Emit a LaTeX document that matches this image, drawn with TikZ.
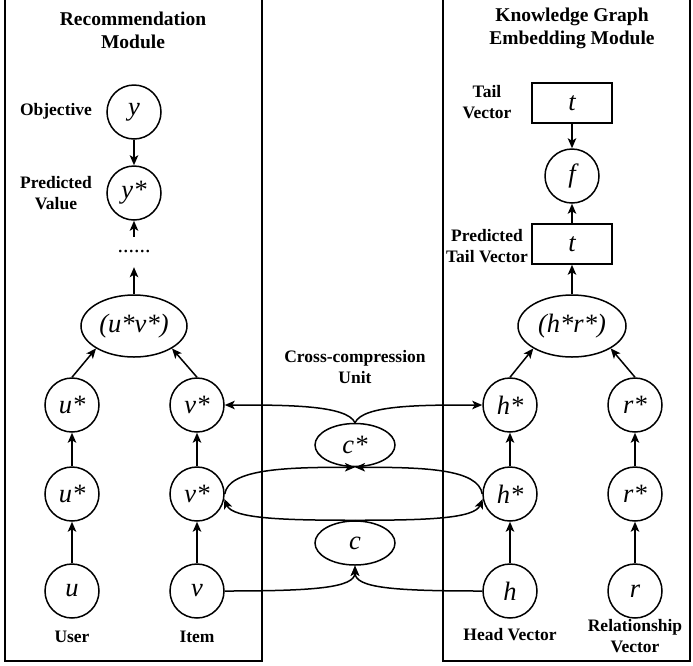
\documentclass[tikz,border=0pt]{standalone}
\usepackage{fontspec}
\setmainfont{Liberation Serif}
\usetikzlibrary{shapes.geometric,arrows.meta}
\begin{document}
\begin{tikzpicture}[x=1pt,y=-1pt,
  every node/.style={inner sep=0pt},
  mathf/.style={font=\fontsize{26.5}{28}\selectfont\itshape},
  circ/.style={circle,draw,line width=1.5pt,minimum size=54pt,mathf},
  ell/.style={ellipse,draw,line width=1.5pt,mathf},
  vbox/.style={rectangle,draw,line width=1.5pt,minimum width=80pt,minimum height=40pt,mathf},
  lab/.style={font=\fontsize{17.5}{21.5}\selectfont\bfseries,align=center},
  head/.style={font=\fontsize{19.5}{23}\selectfont\bfseries,align=center},
  conn/.style={line width=1.5pt,-{Stealth[length=10pt,width=8.5pt,inset=2.5pt]}},
  frame/.style={line width=2pt}
]
\useasboundingbox (0,0) rectangle (693,665);
\draw[frame] (5,0) -- (5,661) -- (262,661) -- (262,0);
\draw[frame] (443,0) -- (443,661) -- (690,661) -- (690,0);

% Recommendation module
\node[head] (rmod) at (133,30) {Recommendation\\Module};
\node[circ] (y) at (134,112) {y};
\node[circ] (ys) at (134,193) {y*};
\node[font=\fontsize{22}{22}\selectfont, minimum height=30pt] (dots) at (134,252) {......};
\node[ell, minimum width=106pt, minimum height=62pt] (uv) at (134,326) {(u*v*)};
\node[circ] (ut) at (72,405) {u*};
\node[circ] (um) at (72,494) {u*};
\node[circ] (u) at (72,591) {u};
\node[circ] (vt) at (197,405) {v*};
\node[circ] (vm) at (197,494) {v*};
\node[circ] (v) at (197,591) {v};
\node[lab] (lobj) at (56,111) {Objective};
\node[lab] (lpv) at (56,193) {Predicted\\Value};
\node[lab] (luser) at (72,637) {User};
\node[lab] (litem) at (197,637) {Item};

% KG module
\node[head] (kmod) at (572,28) {Knowledge Graph\\Embedding Module};
\node[vbox] (tt) at (572,103) {t};
\node[circ] (f) at (572,176) {f};
\node[vbox] (tp) at (572,244) {t};
\node[ell, minimum width=108pt, minimum height=62pt] (hr) at (572,326) {(h*r*)};
\node[circ] (ht) at (510,405) {h*};
\node[circ] (hm) at (510,494) {h*};
\node[circ] (h) at (510,591) {h};
\node[circ] (rt) at (635,405) {r*};
\node[circ] (rm) at (635,494) {r*};
\node[circ] (r) at (635,591) {r};
\node[lab] (ltv) at (487,102) {Tail\\Vector};
\node[lab] (lptv) at (487,246) {Predicted\\Tail Vector};
\node[lab] (lhv) at (510,635) {Head Vector};
\node[lab] (lrv) at (635,636) {Relationship\\Vector};

% Cross-compression unit
\node[lab] (lccu) at (355,367) {Cross-compression\\Unit};
\node[ell, minimum width=80pt, minimum height=43pt] (cs) at (355,445) {c*};
\node[ell, minimum width=80pt, minimum height=44pt] (c) at (355,543) {c};

% straight connectors
\draw[conn] (y) -- (ys);
\draw[conn] (dots) -- (ys);
\draw[conn] (uv) -- (dots);
\draw[conn] (ut.north) -- (uv.south west);
\draw[conn] (vt.north) -- (uv.south east);
\draw[conn] (um) -- (ut);
\draw[conn] (u) -- (um);
\draw[conn] (vm) -- (vt);
\draw[conn] (v) -- (vm);

\draw[conn] (tt) -- (f);
\draw[conn] (tp) -- (f);
\draw[conn] (hr) -- (tp);
\draw[conn] (ht.north) -- (hr.south west);
\draw[conn] (rt.north) -- (hr.south east);
\draw[conn] (hm) -- (ht);
\draw[conn] (h) -- (hm);
\draw[conn] (rm) -- (rt);
\draw[conn] (r) -- (rm);

% curved connectors
\draw[conn] (cs.north) .. controls +(-8,-18) and +(60,0) .. (vt.east);
\draw[conn] (cs.north) .. controls +(8,-18) and +(-60,0) .. (ht.west);
\draw[conn] (vm.east) .. controls +(4,-25) and +(-70,0) .. (cs.south);
\draw[conn] (hm.west) .. controls +(-4,-25) and +(70,0) .. (cs.south);
\draw[conn] (c.north) .. controls +(-70,0) and +(8,20) .. (vm.-10);
\draw[conn] (c.north) .. controls +(70,0) and +(-8,20) .. (hm.190);
\draw[conn] (v.east) .. controls +(90,0) and +(0,22) .. (c.south);
\draw[conn] (h.west) .. controls +(-90,0) and +(0,22) .. (c.south);
\end{tikzpicture}
\end{document}
